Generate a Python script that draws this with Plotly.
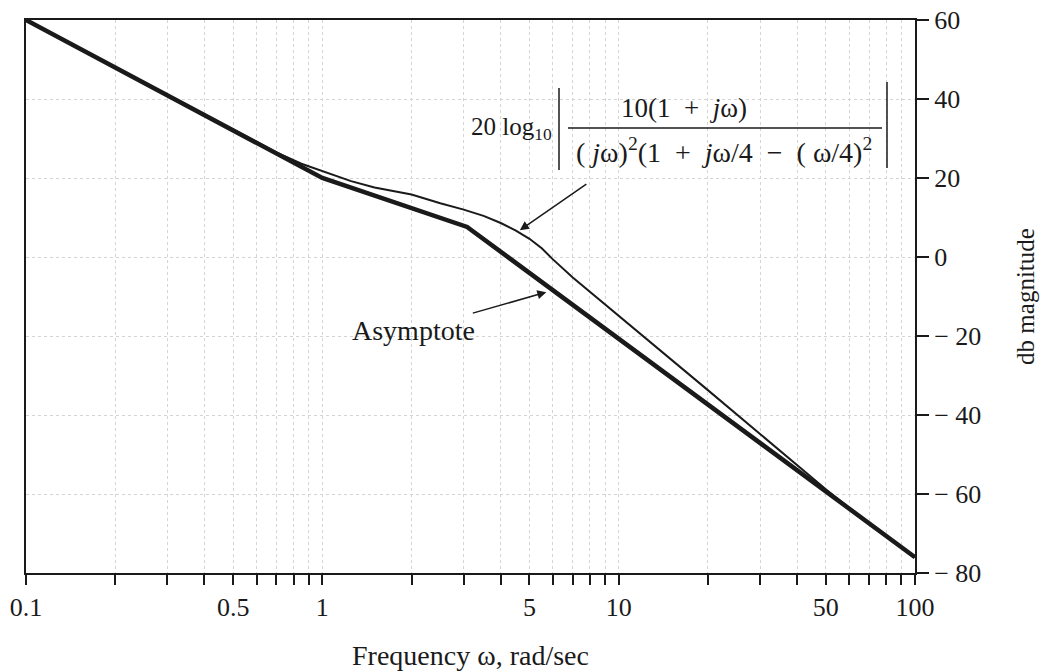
import plotly.graph_objects as go
import math

# ---- data ----
asym_w = [0.1, 1.0, 3.08, 100]
asym_db = [60, 20.0, 7.6, -76]

exact_w = [0.1, 0.3, 0.5, 0.7, 0.85, 1.0, 1.25, 1.5, 2, 2.5, 3, 3.5, 4, 4.5,
           5, 5.5, 6, 7, 8, 10, 12.5, 15, 20, 30, 40, 50, 70, 100]
exact_db = [60, 41, 32.2, 26.5, 23.6, 21.8, 19.2, 17.6, 15.8, 13.6, 12.0, 10.4,
            8.6, 6.7, 4.6, 2.2, -0.6, -5.2, -8.8, -14.8, -20.9, -25.8, -33.7,
            -44.8, -52.7, -58.8, -67.6, -76]

x_tickvals = [0.1, 0.2, 0.3, 0.4, 0.5, 0.6, 0.7, 0.8, 0.9, 1, 2, 3, 4, 5, 6, 7, 8, 9,
              10, 20, 30, 40, 50, 60, 70, 80, 90, 100]
x_ticktext = ["0.1", "", "", "", "0.5", "", "", "", "", "1", "", "", "", "5", "", "",
              "", "", "10", "", "", "", "50", "", "", "", "", "100"]
y_tickvals = [60, 40, 20, 0, -20, -40, -60, -80]
y_ticktext = ["60", "40", "20", "0", "− 20", "− 40", "− 60", "− 80"]

SP = "\u2002"
formula_prefix = "20 log<sub>10</sub>"
formula_num = "10(1" + SP + "+" + SP + "<i>j</i>ω)"
formula_den = ("( <i>j</i>ω)<sup>2</sup>(1" + SP + "+" + SP + "<i>j</i>ω/4" + SP + "−" + SP
               + "( ω/4)<sup>2</sup>")
label_asym = "Asymptote"
x_title = "Frequency ω, rad/sec"
y_title = "db magnitude"

FONT = "Liberation Serif, Times New Roman, serif"
INK = "#1a1a1a"

# the page body has an 8px margin; work in screen pixels and compensate
OFF = 8
W, H = 1051 - OFF, 672 - OFF
L, R, T, B = 26, 915, 20, 573   # plot area in screen pixels


def px(x):
    return (x - L) / (R - L)


def py(y):
    return (B - y) / (B - T)


fig = go.Figure()
fig.add_trace(go.Scatter(x=exact_w, y=exact_db, mode="lines",
                         line=dict(color=INK, width=2), showlegend=False))
fig.add_trace(go.Scatter(x=asym_w, y=asym_db, mode="lines",
                         line=dict(color=INK, width=4.5), showlegend=False))

annos = []
annos.append(dict(xref="paper", yref="paper", x=px(554), y=py(128), text=formula_prefix,
                  showarrow=False, xanchor="right", yanchor="middle",
                  font=dict(size=25, family=FONT, color=INK)))
annos.append(dict(xref="paper", yref="paper", x=px(684), y=py(108), text=formula_num,
                  showarrow=False, xanchor="center", yanchor="middle",
                  font=dict(size=27, family=FONT, color=INK)))
annos.append(dict(xref="paper", yref="paper", x=px(724), y=py(150), text=formula_den,
                  showarrow=False, xanchor="center", yanchor="middle",
                  font=dict(size=28, family=FONT, color=INK)))
annos.append(dict(xref="x", yref="y", x=math.log10(4.64), y=6.8, text="",
                  showarrow=True, ax=68, ay=-47, arrowhead=2, arrowsize=1.2,
                  arrowwidth=1.5, arrowcolor=INK))
annos.append(dict(xref="x", yref="y", x=math.log10(5.7), y=-8.9, text=label_asym,
                  showarrow=True, ax=-133, ay=38, arrowhead=2, arrowsize=1.2,
                  arrowwidth=1.5, arrowcolor=INK,
                  font=dict(size=28, family=FONT, color=INK)))

shapes = [
    dict(type="line", xref="paper", yref="paper", x0=px(568), x1=px(882), y0=py(128), y1=py(128),
         line=dict(color=INK, width=1.5)),
    dict(type="line", xref="paper", yref="paper", x0=px(559), x1=px(559), y0=py(88), y1=py(170),
         line=dict(color=INK, width=1.5)),
    dict(type="line", xref="paper", yref="paper", x0=px(887), x1=px(887), y0=py(82), y1=py(168),
         line=dict(color=INK, width=1.5)),
]

fig.update_layout(
    width=W, height=H,
    margin=dict(l=L - OFF, r=W - (R - OFF), t=T - OFF, b=H - (B - OFF), autoexpand=False),
    paper_bgcolor="white", plot_bgcolor="white",
    font=dict(family=FONT, color=INK, size=26),
    annotations=annos, shapes=shapes, showlegend=False,
)
fig.update_xaxes(type="log", range=[-1, 2], tickvals=x_tickvals, ticktext=x_ticktext,
                 ticks="outside", ticklen=10, tickwidth=1.5, tickcolor=INK,
                 showline=True, linecolor=INK, linewidth=2, mirror=True,
                 showgrid=True, gridcolor="#d4d4d4", gridwidth=1, griddash="dot",
                 tickfont=dict(size=26, family=FONT), zeroline=False, automargin=False,
                 ticklabeloverflow="allow",
                 title=dict(text=x_title, font=dict(size=28, family=FONT), standoff=24))
fig.update_yaxes(range=[-80, 60], side="right", tickvals=y_tickvals, ticktext=y_ticktext,
                 ticks="outside", ticklen=12, tickwidth=1.5, tickcolor=INK,
                 showline=True, linecolor=INK, linewidth=2, mirror=True,
                 showgrid=True, gridcolor="#d4d4d4", gridwidth=1, griddash="dot",
                 tickfont=dict(size=26, family=FONT), zeroline=False, automargin=False,
                 ticklabeloverflow="allow",
                 title=dict(text=y_title, font=dict(size=25, family=FONT), standoff=36))

fig.write_html("out.html")
